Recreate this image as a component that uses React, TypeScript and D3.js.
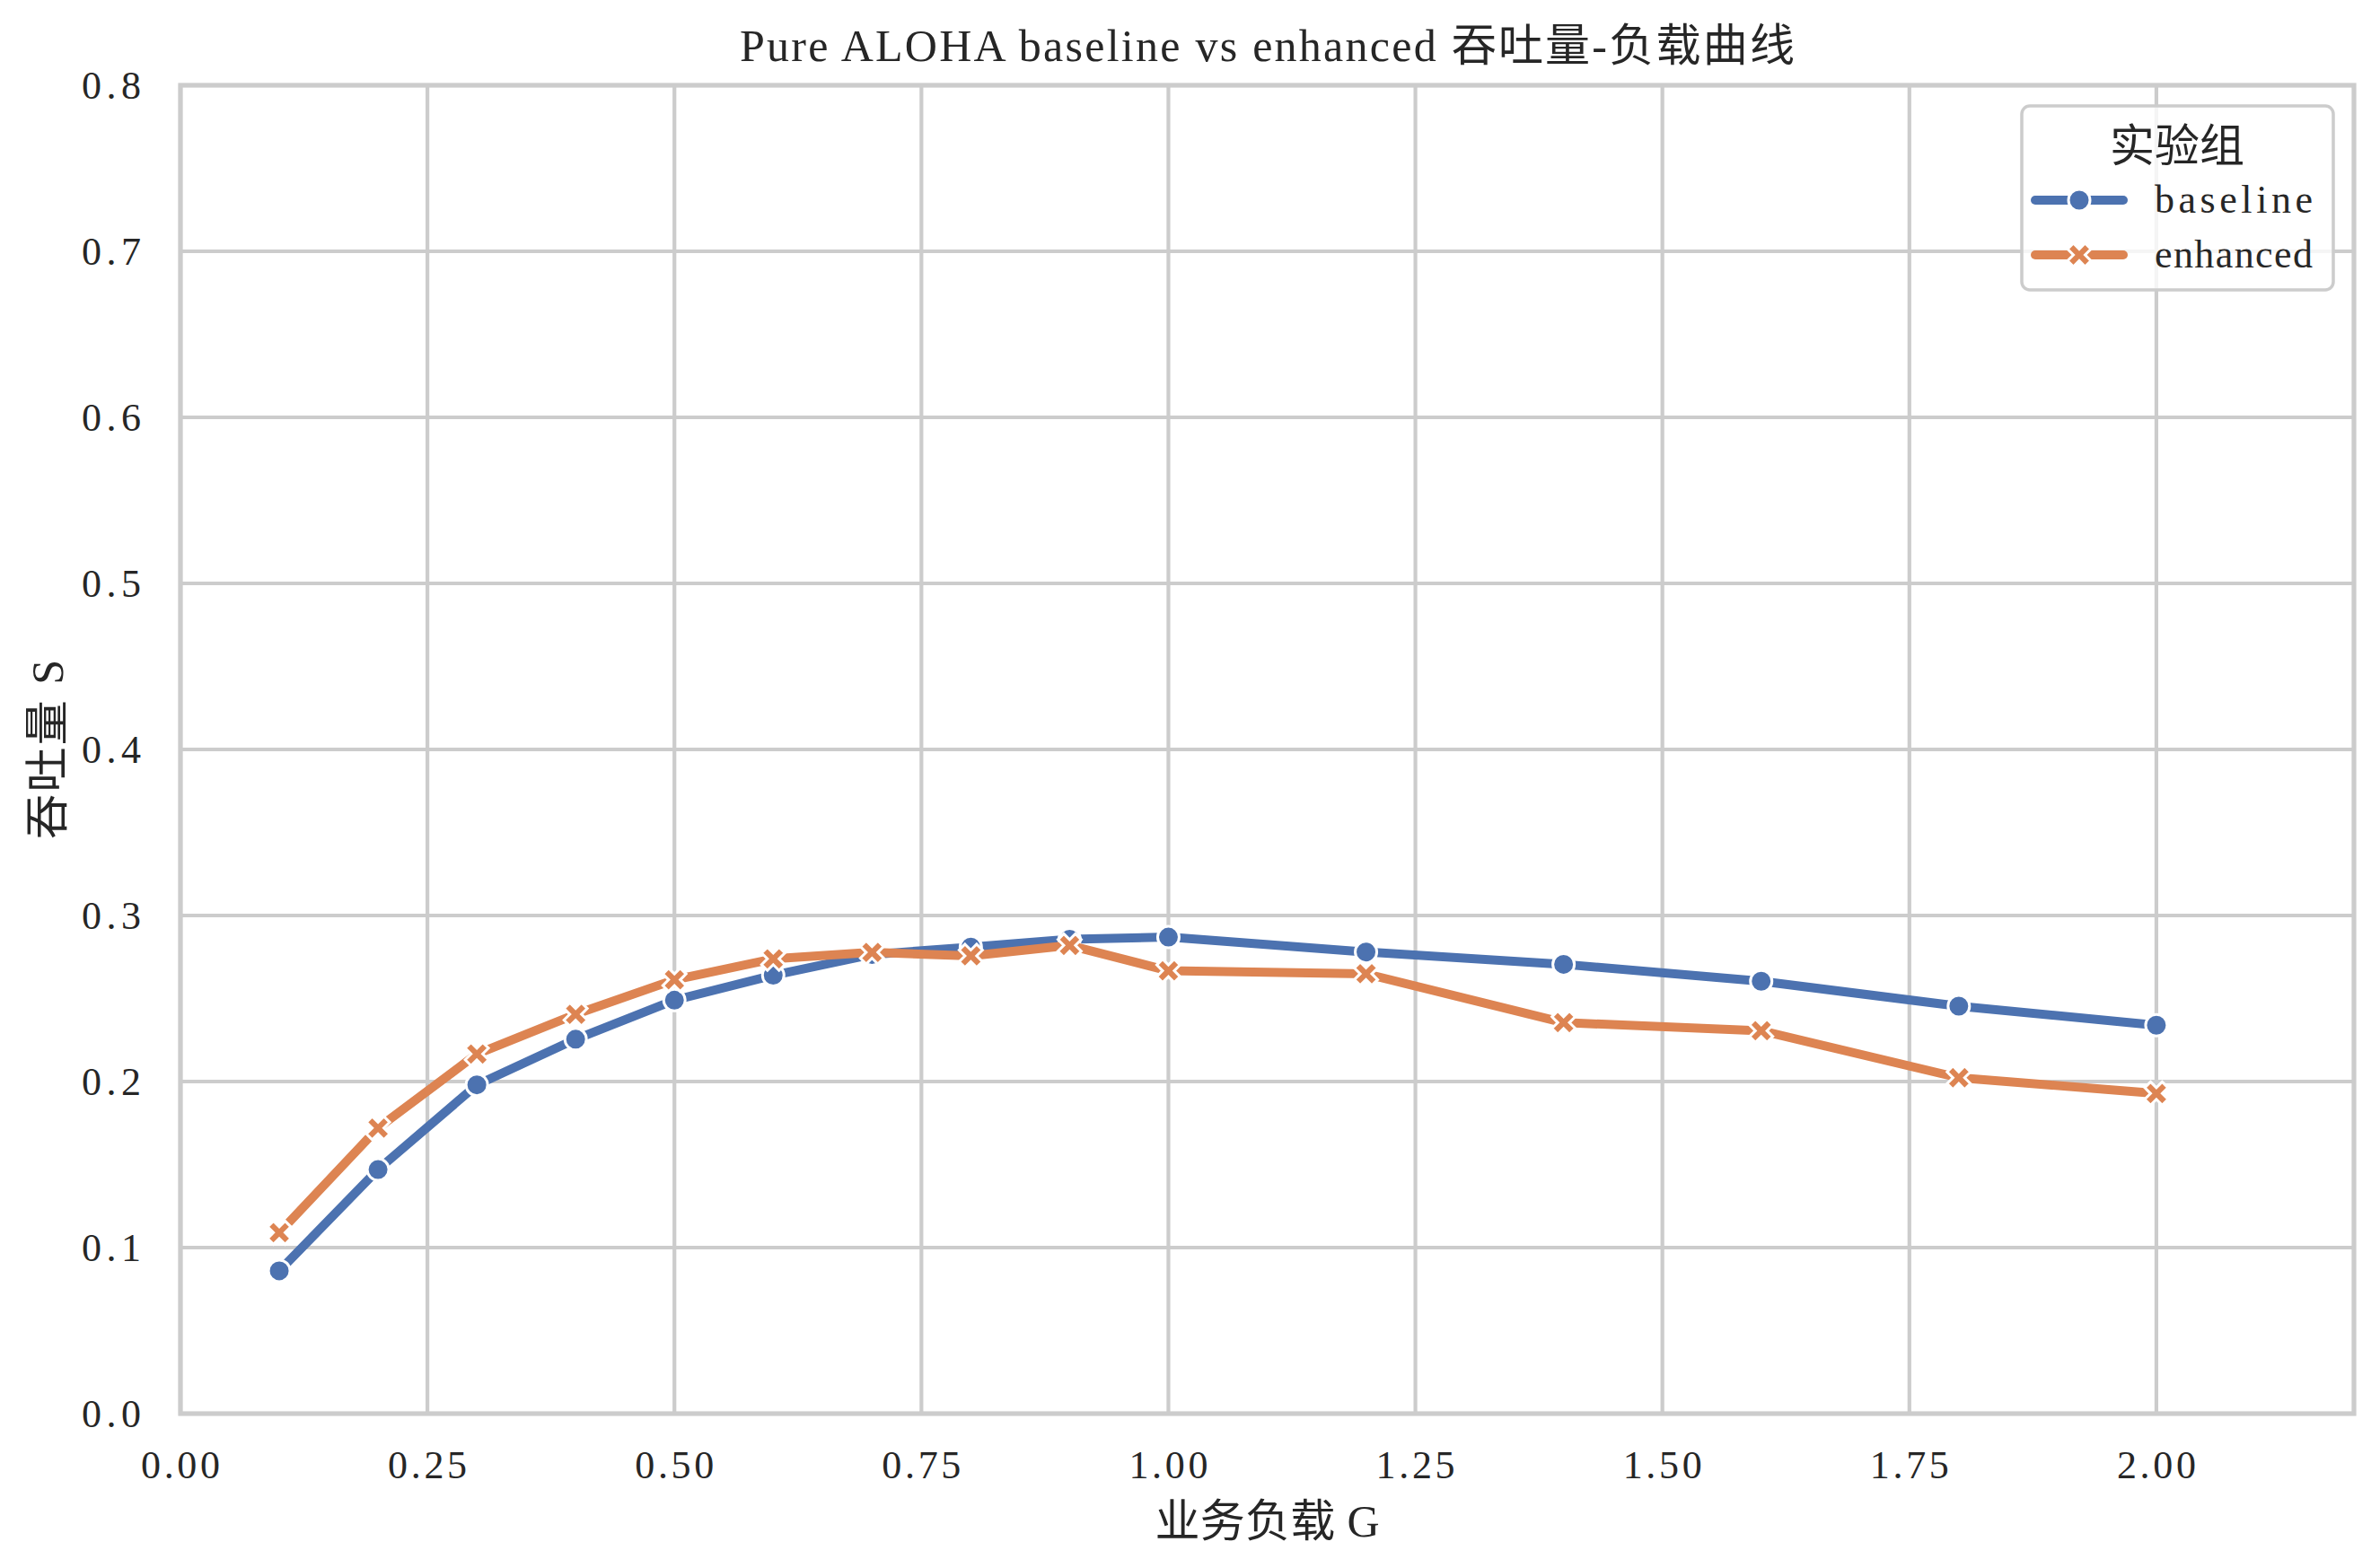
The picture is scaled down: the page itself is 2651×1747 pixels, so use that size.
import React, { useEffect, useRef } from 'react';
import * as d3 from 'd3';

// offered load G and the measured throughput of both groups
const loads = [0.1, 0.2, 0.3, 0.4, 0.5, 0.6, 0.7, 0.8, 0.9, 1.0, 1.2, 1.4, 1.6, 1.8, 2.0];
const baselineS = [0.086, 0.147, 0.198, 0.2255, 0.249, 0.264, 0.2765, 0.281, 0.2857, 0.287, 0.278, 0.2706, 0.2604, 0.2454, 0.2339];
const enhancedS = [0.109, 0.172, 0.2166, 0.2405, 0.2613, 0.2739, 0.2778, 0.2757, 0.282, 0.2667, 0.2649, 0.2355, 0.2306, 0.2023, 0.1928];

const seriesNames = ['baseline', 'enhanced'];
const seriesColors = ['#4c72b0', '#dd8452'];

const xTickValues = [0, 0.25, 0.5, 0.75, 1.0, 1.25, 1.5, 1.75, 2.0];
const yTickValues = [0, 0.1, 0.2, 0.3, 0.4, 0.5, 0.6, 0.7, 0.8];

const titleText = 'Pure ALOHA baseline vs enhanced 吞吐量-负载曲线';
const xLabelText = '业务负载 G';
const yLabelText = '吞吐量 S';
const legendTitle = '实验组';

const FONT = '"Liberation Serif", "Noto Sans CJK SC", serif';
const TEXT = '#262626';
const GRID = '#cccccc';

// width in half-width cells (SimSun-like: latin = 1, CJK = 2)
const cells = (s: string) => Array.from(s).reduce((n, c) => n + (c.charCodeAt(0) > 255 ? 2 : 1), 0);

export default function App() {
    const svgRef = useRef<SVGSVGElement>(null);

    useEffect(() => {
        const W = 2651, H = 1747;
        const margin = { top: 95, right: 29, bottom: 172, left: 201 };
        const width = W - margin.left - margin.right;
        const height = H - margin.top - margin.bottom;

        const root = d3.select(svgRef.current);
        root.selectAll('*').remove();
        root.attr('width', W).attr('height', H);

        root.append('rect').attr('width', W).attr('height', H).attr('fill', '#ffffff');

        const svg = root.append('g').attr('transform', `translate(${margin.left},${margin.top})`);

        const x = d3.scaleLinear().domain([0, 2.2]).range([0, width]);
        const y = d3.scaleLinear().domain([0, 0.8]).range([height, 0]);

        const addText = (g: any, str: string, size: number) =>
            g.append('text')
                .attr('font-family', FONT)
                .attr('font-size', size)
                .attr('fill', TEXT)
                .attr('textLength', cells(str) * size * 0.5)
                .attr('lengthAdjust', 'spacing')
                .text(str);

        // grid
        svg.append('g').selectAll('line').data(xTickValues).enter().append('line')
            .attr('x1', d => x(d)).attr('x2', d => x(d))
            .attr('y1', 0).attr('y2', height)
            .attr('stroke', GRID).attr('stroke-width', 4.2);
        svg.append('g').selectAll('line').data(yTickValues).enter().append('line')
            .attr('x1', 0).attr('x2', width)
            .attr('y1', d => y(d)).attr('y2', d => y(d))
            .attr('stroke', GRID).attr('stroke-width', 4.2);

        // tick labels
        xTickValues.forEach(v => {
            const s = d3.format('.2f')(v);
            addText(svg, s, 44)
                .attr('x', x(v)).attr('y', height + 72)
                .attr('text-anchor', 'middle');
        });
        yTickValues.forEach(v => {
            const s = d3.format('.1f')(v);
            addText(svg, s, 44)
                .attr('x', -44).attr('y', y(v))
                .attr('text-anchor', 'end')
                .attr('dominant-baseline', 'central');
        });

        // series
        const cross = d3.symbol().type(d3.symbolCross).size(420);
        [baselineS, enhancedS].forEach((vals, i) => {
            const pts = loads.map((g, j) => [g, vals[j]] as [number, number]);
            const line = d3.line<[number, number]>().x(d => x(d[0])).y(d => y(d[1]));
            const g = svg.append('g');
            g.append('path')
                .attr('d', line(pts))
                .attr('fill', 'none')
                .attr('stroke', seriesColors[i])
                .attr('stroke-width', 10)
                .attr('stroke-linecap', 'round')
                .attr('stroke-linejoin', 'round');
            if (i === 0) {
                g.selectAll('circle').data(pts).enter().append('circle')
                    .attr('cx', d => x(d[0])).attr('cy', d => y(d[1]))
                    .attr('r', 12)
                    .attr('fill', seriesColors[i])
                    .attr('stroke', '#ffffff').attr('stroke-width', 3);
            } else {
                g.selectAll('path.m').data(pts).enter().append('path')
                    .attr('class', 'm')
                    .attr('d', cross())
                    .attr('transform', d => `translate(${x(d[0])},${y(d[1])}) rotate(45)`)
                    .attr('fill', seriesColors[i])
                    .attr('stroke', '#ffffff').attr('stroke-width', 3);
            }
        });

        // spines
        svg.append('rect')
            .attr('x', 0).attr('y', 0).attr('width', width).attr('height', height)
            .attr('fill', 'none').attr('stroke', GRID).attr('stroke-width', 5.2);

        // title and axis labels
        addText(svg, titleText, 50)
            .attr('x', width / 2).attr('y', -27)
            .attr('text-anchor', 'middle');
        addText(svg, xLabelText, 50)
            .attr('x', width / 2).attr('y', height + 137)
            .attr('text-anchor', 'middle');
        addText(svg, yLabelText, 50)
            .attr('text-anchor', 'middle')
            .attr('dominant-baseline', 'central')
            .attr('transform', `translate(${53 - margin.left},${height / 2}) rotate(-90)`);

        // legend
        const legend = root.append('g').attr('transform', 'translate(2252,118)');
        legend.append('rect')
            .attr('width', 347).attr('height', 205)
            .attr('rx', 9).attr('ry', 9)
            .attr('fill', '#ffffff').attr('fill-opacity', 0.8)
            .attr('stroke', GRID).attr('stroke-width', 3.5);
        addText(legend, legendTitle, 50)
            .attr('x', 173).attr('y', 62)
            .attr('text-anchor', 'middle');
        seriesNames.forEach((name, i) => {
            const cy = 105 + i * 61;
            legend.append('line')
                .attr('x1', 15).attr('x2', 113)
                .attr('y1', cy).attr('y2', cy)
                .attr('stroke', seriesColors[i]).attr('stroke-width', 10)
                .attr('stroke-linecap', 'round');
            if (i === 0) {
                legend.append('circle')
                    .attr('cx', 64).attr('cy', cy).attr('r', 12)
                    .attr('fill', seriesColors[i])
                    .attr('stroke', '#ffffff').attr('stroke-width', 3);
            } else {
                legend.append('path')
                    .attr('d', cross())
                    .attr('transform', `translate(64,${cy}) rotate(45)`)
                    .attr('fill', seriesColors[i])
                    .attr('stroke', '#ffffff').attr('stroke-width', 3);
            }
            addText(legend, name, 44)
                .attr('x', 148).attr('y', cy + 14);
        });
    }, []);

    return (
        <div style={{ position: 'absolute', left: 0, top: 0 }}>
            <svg ref={svgRef} style={{ display: 'block' }}></svg>
        </div>
    );
}
